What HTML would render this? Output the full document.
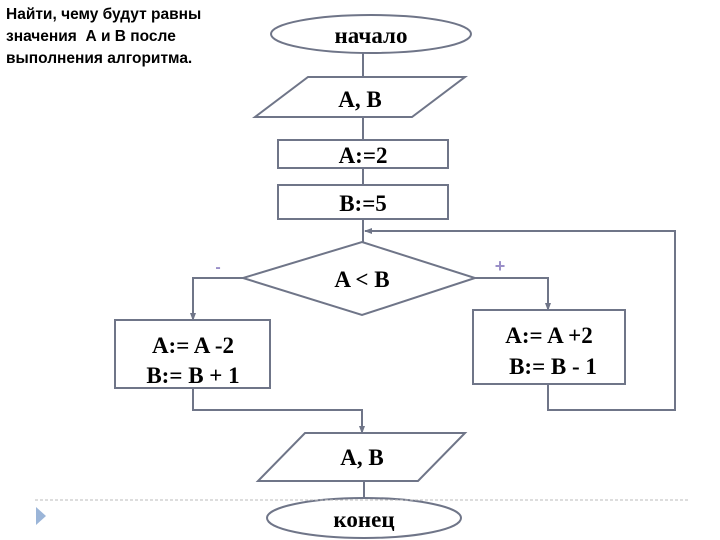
<!DOCTYPE html>
<html><head><meta charset="utf-8"><style>
body{margin:0;width:720px;height:540px;background:#fff;overflow:hidden}
.t{position:absolute;left:6px;top:4px;font:bold 15.5px/22px "Liberation Sans","DejaVu Sans",sans-serif;color:#000}
</style></head><body>
<div class="t">Найти, чему будут равны<br>значения&nbsp; А и В после<br>выполнения алгоритма.</div>
<svg width="720" height="540" style="position:absolute;left:0;top:0">
<defs><marker id="a" markerWidth="8" markerHeight="8" refX="7" refY="4" orient="auto" markerUnits="userSpaceOnUse"><path d="M0,1 L8,4 L0,7z" fill="#6f7588"/></marker></defs>
<g stroke="#6f7588" stroke-width="2" fill="none">
<line x1="363" y1="53" x2="363" y2="77"/>
<line x1="363" y1="117" x2="363" y2="140"/>
<line x1="363" y1="168" x2="363" y2="185"/>
<line x1="363" y1="219" x2="363" y2="242"/>
<polyline points="548,384 548,410 675,410 675,231 365,231" marker-end="url(#a)"/>
<polyline points="243,278 193,278 193,320" marker-end="url(#a)"/>
<polyline points="475,278 548,278 548,310" marker-end="url(#a)"/>
<polyline points="193,388 193,410 362,410 362,433" marker-end="url(#a)"/>
<line x1="364" y1="481" x2="364" y2="497"/>
<ellipse cx="371" cy="34" rx="100" ry="19" fill="#fff"/>
<polygon points="308,77 465,77 412,117 255,117" fill="#fff"/>
<rect x="278" y="140" width="170" height="28" fill="#fff"/>
<rect x="278" y="185" width="170" height="34" fill="#fff"/>
<polygon points="362,242 475,278 362,315 243,278" fill="#fff"/>
<rect x="115" y="320" width="155" height="68" fill="#fff"/>
<rect x="473" y="310" width="152" height="74" fill="#fff"/>
<polygon points="305,433 465,433 418,481 258,481" fill="#fff"/>
<ellipse cx="364" cy="518" rx="97" ry="20" fill="#fff"/>
</g>
<line x1="35" y1="500" x2="690" y2="500" stroke="#bbb" stroke-dasharray="3,2"/>
<polygon points="36,507 46,516 36,525" fill="#9bb5d8"/>
<g font-family="Liberation Serif,serif" font-weight="bold" font-size="23" text-anchor="middle" fill="#000">
<text x="371" y="43">начало</text>
<text x="360" y="107">A, B</text>
<text x="363" y="163">A:=2</text>
<text x="363" y="211">B:=5</text>
<text x="362" y="287">A &lt; B</text>
<text x="193" y="353">A:= A -2</text>
<text x="193" y="383">B:= B + 1</text>
<text x="549" y="343">A:= A +2</text>
<text x="553" y="374">B:= B - 1</text>
<text x="362" y="465">A, B</text>
<text x="364" y="527">конец</text>
</g>
<text x="218" y="272" font-family="Liberation Sans,sans-serif" font-size="16" font-weight="bold" fill="#9a8fc8" text-anchor="middle">-</text>
<text x="500" y="272" font-family="Liberation Sans,sans-serif" font-size="18" font-weight="bold" fill="#9a8fc8" text-anchor="middle">+</text>
</svg>
</body></html>
